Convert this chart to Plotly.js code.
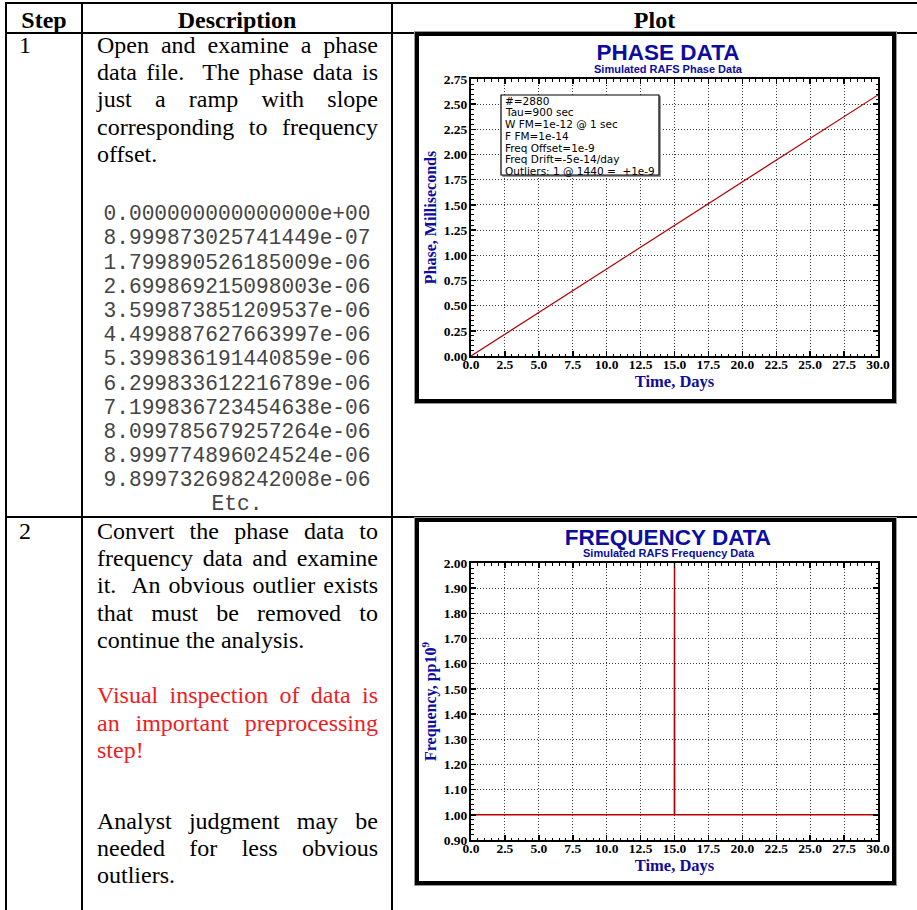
<!DOCTYPE html>
<html>
<head>
<meta charset="utf-8">
<script src="https://cdn.plot.ly/plotly-3.0.1.min.js"></script>
<style>
  html, body { margin:0; padding:0; background:#fff; }
  #page { position:relative; width:917px; height:910px; overflow:hidden; background:#fff; }
  .ln { position:absolute; background:#000; }
  .txt { position:absolute; font-family:"Liberation Serif","Times New Roman",serif; font-size:24px; line-height:27.4px; color:#000; white-space:normal; }
  .hdr { font-weight:bold; text-align:center; }
  .just { text-align:justify; }
  .mono { position:absolute; font-family:"Liberation Mono","Courier New",monospace; font-size:21.2px; line-height:24.17px; color:#444; text-align:center; white-space:pre; }
  .chart { position:absolute; }
  .frame { position:absolute; box-sizing:border-box; border:4px solid #000; pointer-events:none; box-shadow:0 0 0 1px #999; }
</style>
</head>
<body>
<div id="page">
  <div class="txt hdr" style="left:7px; top:6.7px; width:74px;">Step</div>
  <div class="txt hdr" style="left:83px; top:6.7px; width:308px;">Description</div>
  <div class="txt hdr" style="left:393px; top:6.7px; width:523px;">Plot</div>

  <div class="txt" style="left:19px; top:31.5px;">1</div>
  <div class="txt just" style="left:97px; top:31.5px; width:281px;">Open and examine a phase data file.&nbsp; The phase data is just a ramp with slope corresponding to frequency offset.</div>
  <div class="mono" id="monoBlock" style="left:83px; top:202.3px; width:308px;"></div>

  <div class="txt" style="left:19px; top:517.5px;">2</div>
  <div class="txt just" style="left:97px; top:517.5px; width:281px;">Convert the phase data to frequency data and examine it.&nbsp; An obvious outlier exists that must be removed to continue the analysis.</div>
  <div class="txt just" style="left:97px; top:682.2px; width:281px; color:#ee1c24;">Visual inspection of data is an important preprocessing step!</div>
  <div class="txt just" style="left:97px; top:807.5px; width:281px;">Analyst judgment may be needed for less obvious outliers.</div>

  <div id="phaseChart" class="chart" style="left:415px; top:32px; width:481px; height:371px;"></div>
  <div id="freqChart" class="chart" style="left:415px; top:518px; width:481px; height:367px;"></div>

  <!-- table rules -->
  <div class="ln" style="left:5px; top:2px; width:912px; height:2px;"></div>
  <div class="ln" style="left:5px; top:31.5px; width:912px; height:2px;"></div>
  <div class="ln" style="left:5px; top:515.7px; width:912px; height:2px;"></div>
  <div class="ln" style="left:5px; top:2px; width:2px; height:908px;"></div>
  <div class="ln" style="left:81px; top:2px; width:2px; height:908px;"></div>
  <div class="ln" style="left:391px; top:2px; width:2px; height:908px;"></div>

  <div class="frame" style="left:415px; top:32px; width:481px; height:371px;"></div>
  <div class="frame" style="left:415px; top:518px; width:481px; height:367px;"></div>
</div>

<script>
// ---------------- data ----------------
const phaseSample = [
  "0.000000000000000e+00",
  "8.999873025741449e-07",
  "1.799890526185009e-06",
  "2.699869215098003e-06",
  "3.599873851209537e-06",
  "4.499887627663997e-06",
  "5.399836191440859e-06",
  "6.299833612216789e-06",
  "7.199836723454638e-06",
  "8.099785679257264e-06",
  "8.999774896024524e-06",
  "9.899732698242008e-06",
  "Etc."
];

const phaseDays = [0, 2.5, 5, 7.5, 10, 12.5, 15, 17.5, 20, 22.5, 25, 27.5, 30];
const phaseMs   = [0.000, 0.216, 0.432, 0.648, 0.864, 1.080, 1.296, 1.512, 1.728, 1.944, 2.160, 2.376, 2.592];

const freqDays = [0, 14.99, 15.0, 15.01, 30];
const freqPpb  = [1.00, 1.00, 2.00, 1.00, 1.00];

const infoLines = [
  "#=2880",
  "Tau=900 sec",
  "W FM=1e-12 @ 1 sec",
  "F FM=1e-14",
  "Freq Offset=1e-9",
  "Freq Drift=-5e-14/day",
  "Outliers: 1 @ 1440 =  +1e-9"
];

const phaseTitle = "PHASE DATA";
const phaseSubtitle = "Simulated RAFS Phase Data";
const phaseYTitle = "Phase, Milliseconds";
const freqTitle = "FREQUENCY DATA";
const freqSubtitle = "Simulated RAFS Frequency Data";
const freqYTitle = "Frequency, pp10<sup>9</sup>";
const xTitle = "Time, Days";

// ---------------- text block ----------------
document.getElementById('monoBlock').textContent = phaseSample.join("\n");

// ---------------- styles ----------------
const BLUE = '#0c0ca0';
const RED = '#b40000';
const SANS = 'Liberation Sans, Arial, Helvetica, sans-serif';
const SERIF = 'Liberation Serif, Times New Roman, serif';

function axisBase(extra) {
  return Object.assign({
    showline: true, linewidth: 2, linecolor: '#000', mirror: 'allticks',
    ticks: 'inside', ticklen: 5, tickwidth: 1.5, tickcolor: '#000',
    showgrid: true, gridcolor: '#3a3a3a', gridwidth: 1, griddash: '1px,2px',
    zeroline: false, fixedrange: true,
    tickfont: {family: SERIF, size: 13.5, color: '#000', weight: 'bold'}
  }, extra);
}

function makeLayout(opt) {
  const W = opt.width, H = opt.height, m = opt.margin;
  const pw = W - m.l - m.r, ph = H - m.t - m.b;
  // helpers: pixel (relative to div) -> paper coords
  const px2x = v => (v - m.l) / pw;
  const py2y = v => (H - m.b - v) / ph;
  const ann = [{
    text: opt.subtitle, xref: 'paper', yref: 'paper',
    x: px2x(opt.subX), y: py2y(opt.subY), xanchor: 'center', yanchor: 'middle',
    showarrow: false, font: {family: SANS, size: 11, color: BLUE, weight: 'bold'}
  }];
  const shapes = [];
  if (opt.info) {
    const b = opt.info;
    shapes.push({type: 'rect', xref: 'paper', yref: 'paper', layer: 'above',
      x0: px2x(b.x0 + 1.5), x1: px2x(b.x1 + 1.5), y0: py2y(b.y1 + 1.5), y1: py2y(b.y0 + 1.5),
      line: {color: '#9a9a9a', width: 1}, fillcolor: '#9a9a9a'});
    shapes.push({type: 'rect', xref: 'paper', yref: 'paper', layer: 'above',
      x0: px2x(b.x0), x1: px2x(b.x1), y0: py2y(b.y1), y1: py2y(b.y0),
      line: {color: '#000', width: 1.2}, fillcolor: '#fff'});
    infoLines.forEach((t, i) => {
      ann.push({text: t, xref: 'paper', yref: 'paper',
        x: px2x(b.x0 + 1.5), y: py2y(b.firstY + i * b.step),
        xanchor: 'left', yanchor: 'middle', showarrow: false,
        font: {family: 'DejaVu Sans, Liberation Sans, sans-serif', size: 10.5, color: '#000'}});
    });
  }
  return {
    width: W, height: H, margin: m,
    paper_bgcolor: '#fff', plot_bgcolor: '#fff', showlegend: false,
    title: {text: opt.title, xref: 'container', yref: 'container',
      x: opt.titleX / W, xanchor: 'center', y: 1 - opt.titleY / H, yanchor: 'middle',
      font: {family: SANS, size: 22.5, color: BLUE, weight: 'bold'}},
    xaxis: axisBase({range: [0, 30], tick0: 0, dtick: 2.5, tickformat: '.1f',
      ticklabelstandoff: -5,
      minor: {ticks: 'inside', ticklen: 2.5, tickwidth: 1, tickcolor: '#000', dtick: 0.5, showgrid: false},
      title: {text: xTitle, standoff: 0, font: {family: SERIF, size: 16.5, color: BLUE, weight: 'bold'}}}),
    yaxis: axisBase({range: opt.yRange, tick0: opt.yRange[0], dtick: opt.yDtick, tickformat: '.2f',
      ticklabelstandoff: -1,
      minor: {ticks: 'inside', ticklen: 2.5, tickwidth: 1, tickcolor: '#000', dtick: opt.yMinor, showgrid: false},
      title: {text: opt.yTitle, standoff: 3, font: {family: SERIF, size: 16, color: BLUE, weight: 'bold'}}}),
    annotations: ann, shapes: shapes
  };
}

const cfg = {staticPlot: true, displayModeBar: false, responsive: false};

// Phase chart (div at page 415,32)
Plotly.newPlot('phaseChart', [{
  x: phaseDays, y: phaseMs, type: 'scatter', mode: 'lines',
  line: {color: RED, width: 1.2}, hoverinfo: 'skip'
}], makeLayout({
  width: 481, height: 371, margin: {l: 56, r: 18, t: 47, b: 47, pad: 0},
  title: phaseTitle, titleX: 253, titleY: 20.5,
  subtitle: phaseSubtitle, subX: 253.7, subY: 37.3,
  yTitle: phaseYTitle, yRange: [0, 2.75], yDtick: 0.25, yMinor: 0.05,
  info: {x0: 86, x1: 244, y0: 63, y1: 143, firstY: 68.7, step: 11.72}
}), cfg);

// Frequency chart (div at page 415,518)
Plotly.newPlot('freqChart', [{
  x: freqDays, y: freqPpb, type: 'scatter', mode: 'lines',
  line: {color: RED, width: 1.5}, hoverinfo: 'skip'
}], makeLayout({
  width: 481, height: 367, margin: {l: 56, r: 18, t: 45, b: 45, pad: 0},
  title: freqTitle, titleX: 253, titleY: 19.5,
  subtitle: freqSubtitle, subX: 253.7, subY: 35.3,
  yTitle: freqYTitle, yRange: [0.9, 2.0], yDtick: 0.1, yMinor: 0.02,
  info: null
}), cfg);
</script>
</body>
</html>
